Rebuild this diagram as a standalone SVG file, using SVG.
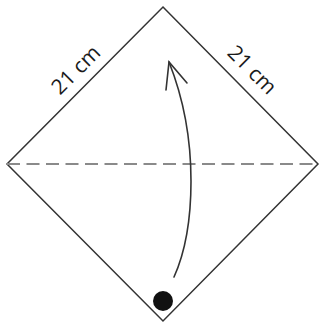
<svg xmlns="http://www.w3.org/2000/svg" width="320" height="325" viewBox="0 0 320 325">
<style>
.edge{fill:none;stroke:#333;stroke-width:1.5}
.fold{stroke:#8a8a8a;stroke-width:2;stroke-dasharray:13 6.5}
.arrow{fill:none;stroke:#333;stroke-width:1.6;stroke-linecap:round}
.lbl{font-family:"Open Sans","Liberation Sans",Arial,sans-serif;font-size:21px;fill:#1a1a1a;text-anchor:middle}
</style>
<rect width="320" height="325" fill="#fff"/>
<g id="paper">
<polygon class="edge" points="163,7 318,164 163,321 7,164"/>
<line class="fold" x1="7" y1="164" x2="318" y2="164"/>
</g>
<g id="connectors">
<path class="arrow" d="M174,277 C195,230 200,140 169,62"/>
<path class="arrow" d="M166,90 L169,62 L187,83"/>
</g>
<g id="dot"><circle cx="163" cy="301" r="10" fill="#111"/></g>
<g id="label-left"><text class="lbl" transform="translate(76,70) rotate(-45)" y="7">21 cm</text></g>
<g id="label-right"><text class="lbl" transform="translate(252,70) rotate(45)" y="7">21 cm</text></g>
</svg>
